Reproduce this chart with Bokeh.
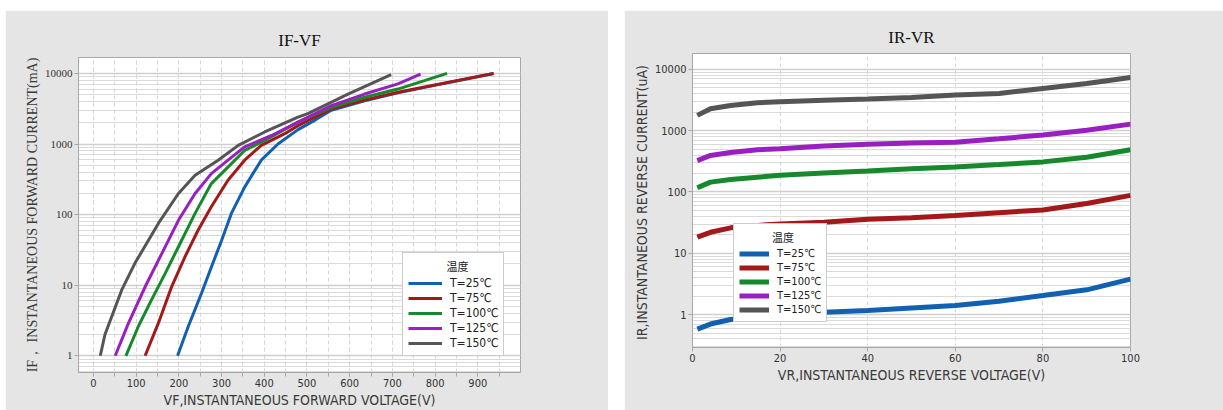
from bokeh.plotting import figure
from bokeh.models import FixedTicker, Legend, LegendItem, Range1d, PrintfTickFormatter
from bokeh.layouts import row, column
from bokeh.embed import file_html
from bokeh.resources import INLINE

series_names = ["T=25℃", "T=75℃", "T=100℃", "T=125℃", "T=150℃"]
legend_title = "温度"
colors = ["#1160b2", "#a31818", "#16892c", "#9a1fc0", "#555555"]

# IF-VF data
vf_25 = [197, 222, 253, 276, 300, 323, 354, 393, 432, 479, 520, 557, 635, 713, 790, 868, 937]
if_25 = [1, 2.6, 7.7, 18, 43, 104, 245, 590, 1000, 1600, 2200, 3000, 4100, 5300, 6600, 8200, 10000]
vf_75 = [121, 152, 183, 214, 245, 276, 315, 354, 393, 448, 479, 557, 635, 713, 790, 868, 937]
if_75 = [1, 2.9, 9.5, 25, 60, 129, 307, 590, 955, 1400, 1820, 3150, 4200, 5400, 6700, 8300, 10000]
vf_100 = [76, 105, 136, 168, 199, 238, 276, 315, 354, 401, 479, 557, 635, 713, 775, 828]
if_100 = [1, 2.6, 6.2, 14.7, 35, 104, 275, 470, 810, 1120, 2040, 3300, 4600, 6000, 7900, 10000]
vf_125 = [51, 82, 121, 160, 199, 238, 276, 315, 354, 417, 479, 557, 635, 713, 766]
if_125 = [1, 2.9, 9.5, 28, 83, 199, 380, 590, 910, 1320, 2040, 3500, 5100, 7100, 9800]
vf_150 = [16, 27, 66, 97, 152, 199, 238, 292, 339, 401, 479, 502, 596, 697]
if_150 = [1, 2.0, 8.5, 20.4, 75, 199, 360, 590, 955, 1480, 2400, 2690, 5100, 9600]

# IR-VR data
vr = [1.1, 4.1, 8.7, 14.8, 20, 30, 40, 50, 60, 70, 80, 90, 100]
ir_25 = [0.58, 0.70, 0.83, 0.9, 0.96, 1.09, 1.16, 1.28, 1.4, 1.65, 2.04, 2.53, 3.78]
ir_75 = [18.3, 22, 26, 28.5, 30, 32, 36, 38, 41.5, 46, 51, 65, 88]
ir_100 = [117, 145, 160, 174, 187, 204, 220, 240, 255, 280, 310, 370, 490]
ir_125 = [326, 395, 441, 488, 510, 565, 600, 630, 650, 740, 850, 1020, 1280]
ir_150 = [1780, 2290, 2580, 2860, 2960, 3150, 3300, 3480, 3820, 4050, 4900, 5900, 7400]

y_ticks = [1, 10, 100, 1000, 10000]
y_minor = [m * 10 ** e for e in range(-1, 5) for m in range(1, 10)]

PANEL = "#e5e5e5"
SANS = "DejaVu Sans Condensed"


def style(p, title, xlabel, ylabel, ylabel_font, ytick_font, xtick_font, standoff):
    p.title.text = title
    p.title.align = "center"
    p.title.text_font = "Liberation Serif"
    p.title.text_font_size = "17px"
    p.title.text_font_style = "normal"
    p.title.text_color = "#111111"
    p.title.standoff = standoff
    p.border_fill_color = PANEL
    p.background_fill_color = "white"
    p.outline_line_color = "#a8a8a8"
    p.xaxis.axis_label = xlabel
    p.yaxis.axis_label = ylabel
    for ax in (p.xaxis, p.yaxis):
        ax.axis_line_color = "#a8a8a8"
        ax.major_tick_line_color = "#a8a8a8"
        ax.minor_tick_line_color = None
        ax.major_tick_out = 4
        ax.major_tick_in = 0
        ax.major_label_standoff = 2
        ax.major_label_text_font_size = "11px"
        ax.major_label_text_color = "#333333"
        ax.axis_label_text_font_style = "normal"
        ax.axis_label_text_color = "#3a3a3a"
        ax.axis_label_standoff = 2
    p.xaxis.axis_label_text_font = SANS
    p.xaxis.axis_label_text_font_size = "14px"
    p.yaxis.axis_label_text_font = ylabel_font
    p.yaxis.axis_label_text_font_size = "14px"
    p.yaxis.major_label_text_font = ytick_font
    p.xaxis.major_label_text_font = xtick_font
    p.yaxis.ticker = FixedTicker(ticks=y_ticks, minor_ticks=y_minor)
    p.yaxis.formatter = PrintfTickFormatter(format="%d")
    p.ygrid.grid_line_color = "#cfcfcf"
    p.ygrid.grid_line_width = 1.5
    p.ygrid.minor_grid_line_color = "#dadada"
    p.ygrid.minor_grid_line_width = 1
    p.xgrid.grid_line_color = "#d6d6d6"
    p.xgrid.grid_line_dash = "4 3"


def add_legend(p, renderers, loc, font_size, glyph_w, row_h, indent):
    items = [LegendItem(label=n, renderers=[r]) for n, r in zip(series_names, renderers)]
    lg = Legend(items=items, location=loc, title=indent + legend_title)
    lg.title_text_font = "Noto Sans CJK SC"
    lg.title_text_font_size = "11px"
    lg.title_text_font_style = "normal"
    lg.title_text_color = "#222222"
    lg.title_standoff = 2
    lg.label_text_font = SANS
    lg.label_text_font_size = font_size
    lg.label_text_color = "#222222"
    lg.glyph_width = glyph_w
    lg.glyph_height = row_h
    lg.label_height = row_h
    lg.spacing = 1
    lg.padding = 5
    lg.margin = 0
    lg.label_standoff = 8
    lg.border_line_color = "#999999"
    lg.background_fill_alpha = 1
    p.add_layout(lg)


# Left chart
p1 = figure(width=603, height=400, y_axis_type="log",
            x_range=Range1d(-35, 1000), y_range=Range1d(0.58, 16800),
            output_backend="svg", toolbar_location=None,
            min_border_left=73, min_border_right=88, min_border_top=47, min_border_bottom=37)
style(p1, "IF-VF", "VF,INSTANTANEOUS FORWARD VOLTAGE(V)",
      "IF， INSTANTANEOUS FORWARD CURRENT(mA)", "Liberation Serif", "Liberation Serif", SANS, 16)
p1.xaxis.ticker = FixedTicker(ticks=list(range(0, 1000, 100)), minor_ticks=list(range(0, 1000, 50)))
p1.xaxis.minor_tick_line_color = "#a8a8a8"
p1.xaxis.minor_tick_out = 4
p1.xaxis.minor_tick_in = 0
p1.xgrid.minor_grid_line_color = "#d6d6d6"
p1.xgrid.minor_grid_line_dash = "4 3"

left_x = [vf_25, vf_75, vf_100, vf_125, vf_150]
left_y = [if_25, if_75, if_100, if_125, if_150]
r1 = [p1.line(x, y, line_color=c, line_width=3) for x, y, c in zip(left_x, left_y, colors)]
add_legend(p1, r1, (324, 16), "12px", 34, 14, "\u3000\u3000\u3000\u2002")

# Right chart
p2 = figure(width=599, height=400, y_axis_type="log",
            x_range=Range1d(0, 100), y_range=Range1d(0.29, 18200),
            output_backend="svg", toolbar_location=None,
            min_border_left=68, min_border_right=93, min_border_top=43, min_border_bottom=63)
style(p2, "IR-VR", "VR,INSTANTANEOUS REVERSE VOLTAGE(V)",
      "IR,INSTANTANEOUS  REVERSE CURRENT(uA)", SANS, SANS, SANS, 13)
p2.xaxis.ticker = FixedTicker(ticks=[0, 20, 40, 60, 80, 100])

right_y = [ir_25, ir_75, ir_100, ir_125, ir_150]
r2 = [p2.line(vr, y, line_color=c, line_width=5) for y, c in zip(right_y, colors)]
add_legend(p2, r2, (41, 25), "11px", 30, 13, "\u3000\u3000\u3000")

layout = row(column(p1), column(p2), spacing=16)
layout.margin = (10, 0, 0, 5)
open("out.html", "w").write(file_html(layout, INLINE))
